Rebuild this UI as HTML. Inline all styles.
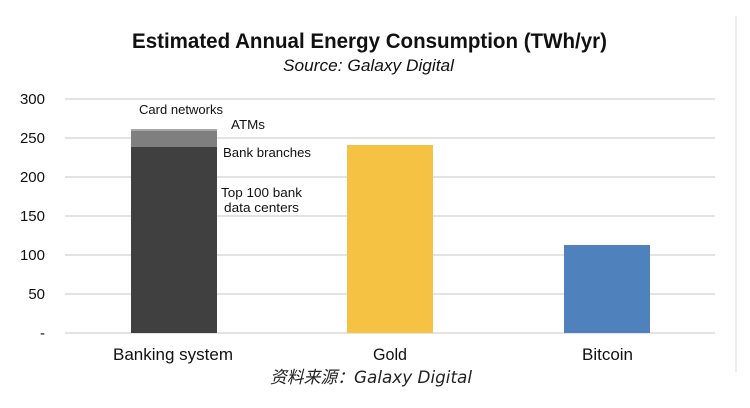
<!DOCTYPE html>
<html>
<head>
<meta charset="utf-8">
<style>
html,body{margin:0;padding:0;background:#fff;}
svg{display:block;}
text{font-family:"Liberation Sans","Noto Sans CJK SC",sans-serif;}
</style>
</head>
<body>
<svg width="750" height="408" viewBox="0 0 750 408" xmlns="http://www.w3.org/2000/svg">
<rect width="750" height="408" fill="#fff"/>
<!-- right vertical divider -->
<line x1="736" y1="16" x2="736" y2="372" stroke="#e6e6e6" stroke-width="1.5"/>
<!-- title -->
<text x="132" y="48" font-size="21" font-weight="bold" fill="#111" textLength="475" lengthAdjust="spacingAndGlyphs">Estimated Annual Energy Consumption (TWh/yr)</text>
<text x="283" y="71" font-size="17" font-style="italic" fill="#111" textLength="171" lengthAdjust="spacingAndGlyphs">Source: Galaxy Digital</text>
<!-- gridlines -->
<g stroke="#e3e3e3" stroke-width="2">
<line x1="65" y1="99" x2="715" y2="99"/>
<line x1="65" y1="138" x2="715" y2="138"/>
<line x1="65" y1="177" x2="715" y2="177"/>
<line x1="65" y1="216" x2="715" y2="216"/>
<line x1="65" y1="255" x2="715" y2="255"/>
<line x1="65" y1="294" x2="715" y2="294"/>
<line x1="65" y1="333" x2="715" y2="333"/>
</g>
<!-- y labels -->
<g font-size="15" fill="#111" text-anchor="end">
<text x="45" y="104">300</text>
<text x="45" y="143">250</text>
<text x="45" y="182">200</text>
<text x="45" y="221">150</text>
<text x="45" y="260">100</text>
<text x="45" y="299">50</text>
<text x="45" y="338">-</text>
</g>
<!-- bars -->
<rect x="131" y="129" width="86" height="2" fill="#a8a8a8"/>
<rect x="131" y="131" width="86" height="16" fill="#7f7f7f"/>
<rect x="131" y="147" width="86" height="186" fill="#404040"/>
<rect x="347" y="145" width="86" height="188" fill="#f6c244"/>
<rect x="564" y="245" width="86" height="88" fill="#4f81bd"/>
<!-- annotations -->
<g font-size="12.5" fill="#111">
<text x="139" y="114" textLength="84" lengthAdjust="spacingAndGlyphs">Card networks</text>
<text x="231" y="129" textLength="34" lengthAdjust="spacingAndGlyphs">ATMs</text>
<text x="223" y="157" textLength="88" lengthAdjust="spacingAndGlyphs">Bank branches</text>
<text x="221" y="197" textLength="81" lengthAdjust="spacingAndGlyphs">Top 100 bank</text>
<text x="224" y="212" textLength="75" lengthAdjust="spacingAndGlyphs">data centers</text>
</g>
<!-- category labels -->
<g font-size="16.5" fill="#111">
<text x="113" y="360" textLength="120" lengthAdjust="spacingAndGlyphs">Banking system</text>
<text x="373" y="360" textLength="34" lengthAdjust="spacingAndGlyphs">Gold</text>
<text x="582" y="360" textLength="51" lengthAdjust="spacingAndGlyphs">Bitcoin</text>
</g>
<!-- caption -->
<text x="270" y="383" font-size="17" font-style="italic" fill="#222" textLength="202" lengthAdjust="spacingAndGlyphs" style="font-family:'DejaVu Sans','Noto Sans CJK SC',sans-serif;">资料来源：Galaxy Digital</text>
</svg>
</body>
</html>
